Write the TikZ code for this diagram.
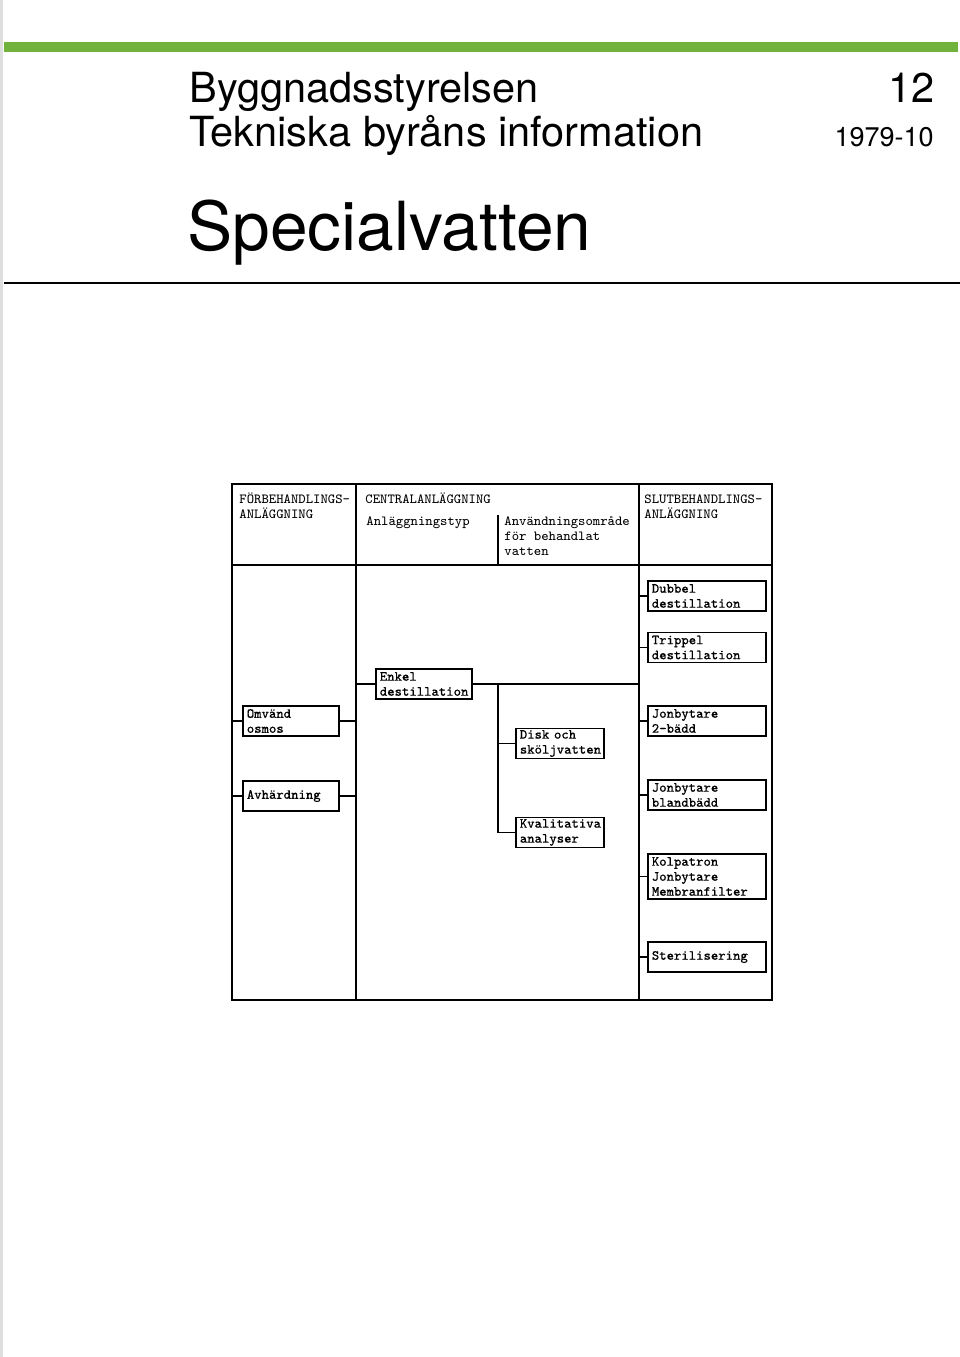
\documentclass[tikz,border=0pt]{standalone}
\usepackage{fontspec}
\newfontfamily\hv{TeX Gyre Heros}
\newfontfamily\tyw{Latin Modern Mono}[FakeBold=0.3]
\definecolor{barGreen}{RGB}{112,178,60}
\definecolor{edgeGray}{RGB}{222,222,222}
\begin{document}
\begin{tikzpicture}[x=0.5pt,y=-0.5pt,
  tt/.style={font=\ttfamily\fontsize{6.95}{7.5}\selectfont, inner sep=0pt, anchor=base west},
  box/.style={draw, line width=0.85pt, font=\tyw\fontsize{6.95}{7.5}\selectfont,
              align=left, inner xsep=2pt, inner ysep=0pt, anchor=west, minimum height=15pt},
  wbox/.style={box, text width=55pt},
  mbox/.style={box, text width=44pt},
  sbox/.style={box, text width=40pt},
  conn/.style={line width=0.85pt},
  frame/.style={line width=0.9pt}]
\useasboundingbox (0,0) rectangle (960,1357);
\fill[white] (0,0) rectangle (960,1357);
\fill[edgeGray] (0,0) rectangle (3,1357);
% green bar and rule
\fill[barGreen] (4,42) rectangle (958,52);
\draw[line width=1pt] (4,283) -- (960,283);
% titles
\node[font=\hv\fontsize{20.75}{20.75}\selectfont, anchor=base west, inner sep=0pt] (t1) at (189,102) {Byggnadsstyrelsen};
\node[font=\hv\fontsize{20.75}{20.75}\selectfont, anchor=base west, inner sep=0pt] (t2) at (189,146) {Tekniska byråns information};
\node[font=\hv\fontsize{20.75}{20.75}\selectfont, anchor=base east, inner sep=0pt] (nr) at (935,102) {12};
\node[font=\hv\fontsize{13.5}{13.5}\selectfont, anchor=base east, inner sep=0pt] (dt) at (934,146) {1979-10};
\node[font=\hv\fontsize{33.85}{33.85}\selectfont, anchor=base west, inner sep=0pt] (t3) at (187,250) {Specialvatten};
% table frame
\draw[frame] (232,484) rectangle (772,1000);
\draw[frame] (232,565) -- (772,565);
\draw[frame] (356,484) -- (356,1000);
\draw[frame] (639,484) -- (639,1000);
\draw[frame] (498,515) -- (498,565);
\coordinate (colL) at (232,0);
\coordinate (colA) at (356,0);
\coordinate (colM) at (498,0);
\coordinate (colB) at (639,0);
% header texts
\node[tt] (h1a) at (239,503) {FÖRBEHANDLINGS-};
\node[tt] (h1b) at (239,518) {ANLÄGGNING};
\node[tt] (h2) at (365,503) {CENTRALANLÄGGNING};
\node[tt] (h2a) at (366,525) {Anläggningstyp};
\node[tt] (h2b1) at (504,525) {Användningsområde};
\node[tt] (h2b2) at (504,540) {för behandlat};
\node[tt] (h2b3) at (504,555) {vatten};
\node[tt] (h3a) at (644,503) {SLUTBEHANDLINGS-};
\node[tt] (h3b) at (644,518) {ANLÄGGNING};
% boxes
\node[mbox] (omv) at (242,721) {Omvänd\\osmos};
\node[mbox] (avh) at (242,796) {Avhärdning};
\node[mbox] (enk) at (375,684) {Enkel\\destillation};
\node[sbox] (disk) at (515,743.5) {Disk och\\sköljvatten};
\node[sbox] (kval) at (515,832.5) {Kvalitativa\\analyser};
\node[wbox] (dub) at (647,596) {Dubbel\\destillation};
\node[wbox] (tri) at (647,647.5) {Trippel\\destillation};
\node[wbox] (jon2) at (647,721) {Jonbytare\\2-bädd};
\node[wbox] (jonb) at (647,795) {Jonbytare\\blandbädd};
\node[wbox, minimum height=22.5pt] (kol) at (647,876.5) {Kolpatron\\Jonbytare\\Membranfilter};
\node[wbox] (ster) at (647,957) {Sterilisering};
% connectors
\draw[conn] (omv.west -| colL) -- (omv.west);
\draw[conn] (omv.east) -- (omv.east -| colA);
\draw[conn] (avh.west -| colL) -- (avh.west);
\draw[conn] (avh.east) -- (avh.east -| colA);
\draw[conn] (enk.west -| colA) -- (enk.west);
\draw[conn] (enk.east) -- (enk.east -| colB);
\draw[conn] (enk.east -| colM) |- (disk.west);
\draw[conn] (enk.east -| colM) |- (kval.west);
\foreach \b in {dub,tri,jon2,jonb,kol,ster}
  \draw[conn] (\b.west -| colB) -- (\b.west);
\end{tikzpicture}
\end{document}
